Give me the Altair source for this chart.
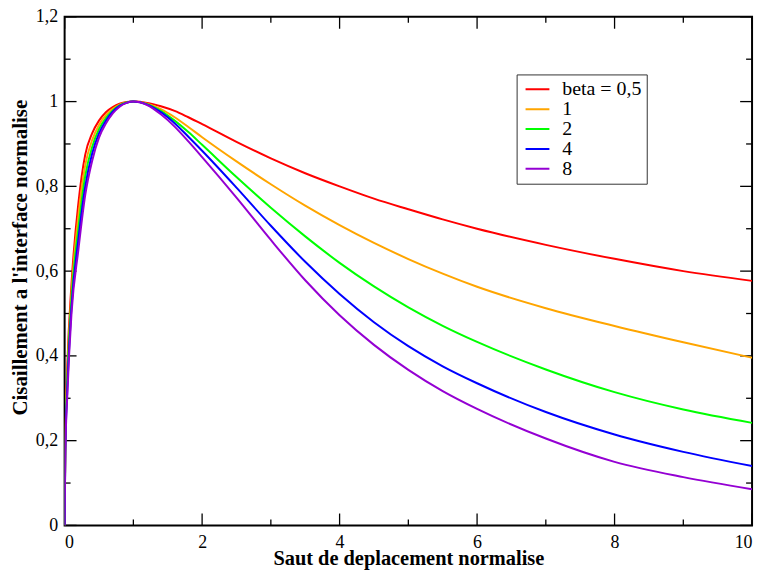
import altair as alt
import pandas as pd

series_labels = ["beta = 0,5", "1", "2", "4", "8"]
series_colors = ["#ff0000", "#ffa500", "#00ff00", "#0000ff", "#9400d3"]

x_vals = [0, 0.01, 0.04, 0.1, 0.2, 0.3, 0.4, 0.5, 0.6, 0.7, 0.8, 0.9, 1.0,
          1.2, 1.4, 1.6, 1.8, 2.0, 2.5, 3.0, 3.5, 4.0, 4.5, 5.0, 5.5, 6.0,
          7.0, 8.0, 9.0, 10.0]

y_beta05 = [0, 0.2, 0.38, 0.57, 0.76, 0.875, 0.925, 0.955, 0.975, 0.987, 0.995, 0.999, 1.0,
            0.997, 0.989, 0.978, 0.963, 0.947, 0.905, 0.866, 0.831, 0.80, 0.771, 0.746, 0.722, 0.70,
            0.662, 0.629, 0.60, 0.577]
y_beta1 = [0, 0.19, 0.36, 0.55, 0.73, 0.85, 0.909, 0.945, 0.968, 0.983, 0.993, 0.998, 1.0,
           0.995, 0.982, 0.963, 0.940, 0.916, 0.859, 0.805, 0.7545, 0.7085, 0.6665, 0.6285, 0.594, 0.563,
           0.5125, 0.4705, 0.432, 0.3956]
y_beta2 = [0, 0.185, 0.345, 0.535, 0.70, 0.825, 0.893, 0.935, 0.961, 0.979, 0.991, 0.998, 1.0,
           0.994, 0.978, 0.955, 0.928, 0.898, 0.822, 0.7495, 0.682, 0.6195, 0.564, 0.5145, 0.471, 0.433,
           0.368, 0.3145, 0.2735, 0.242]
y_beta4 = [0, 0.175, 0.325, 0.515, 0.675, 0.80, 0.877, 0.925, 0.955, 0.976, 0.99, 0.997, 1.0,
           0.993, 0.975, 0.949, 0.917, 0.884, 0.797, 0.707, 0.622, 0.546, 0.4795, 0.423, 0.3755, 0.3355,
           0.2675, 0.2145, 0.1735, 0.140]
y_beta8 = [0, 0.17, 0.31, 0.5, 0.65, 0.78, 0.86, 0.915, 0.948, 0.972, 0.988, 0.997, 1.0,
           0.992, 0.970, 0.941, 0.906, 0.869, 0.7735, 0.6735, 0.5785, 0.496, 0.426, 0.367, 0.317, 0.275,
           0.205, 0.150, 0.114, 0.0855]

x_major = [0, 2, 4, 6, 8, 10]
x_minor = [1, 3, 5, 7, 9]
y_major = [0, 0.2, 0.4, 0.6, 0.8, 1.0, 1.2]
y_minor = [0.1, 0.3, 0.5, 0.7, 0.9, 1.1]

W, H = 692, 512
FONT = "Liberation Serif"

rows = []
for lab, ys in zip(series_labels, [y_beta05, y_beta1, y_beta2, y_beta4, y_beta8]):
    for xv, yv in zip(x_vals, ys):
        rows.append({"x": xv, "y": yv, "serie": lab})
df = pd.DataFrame(rows)

xscale = alt.Scale(domain=[0, 10], nice=False, zero=False)
yscale = alt.Scale(domain=[0, 1.2], nice=False, zero=False)
xaxis = alt.Axis(title="Saut de deplacement normalise", values=x_major, ticks=False,
                 domain=False, grid=False, labelFont=FONT, labelFontSize=18,
                 labelColor="black", labelPadding=8, labelBaseline="top",
                 titleFont=FONT, titleFontSize=20.5, titleFontWeight="bold",
                 titleColor="black", titleX=346, titleY=39,
                 titleBaseline="alphabetic", titleAlign="center")
yaxis = alt.Axis(title="Cisaillement a l'interface normalise", values=y_major, ticks=False,
                 domain=False, grid=False, labelFont=FONT, labelFontSize=18,
                 labelColor="black", labelPadding=7,
                 labelExpr="replace(format(datum.value, '.1~f'), '.', ',')",
                 titleFont=FONT, titleFontSize=21, titleFontWeight="bold",
                 titleColor="black", titleAngle=-90, titleX=-44, titleY=242,
                 titleBaseline="middle", titleAlign="center")

xenc = alt.X("x:Q", scale=xscale, axis=xaxis)
yenc = alt.Y("y:Q", scale=yscale, axis=yaxis)

lines = alt.Chart(df).mark_line(strokeWidth=2, interpolate="monotone", clip=True).encode(
    x=xenc, y=yenc,
    color=alt.Color("serie:N", sort=series_labels,
                    scale=alt.Scale(domain=series_labels, range=series_colors),
                    legend=alt.Legend(title=None, orient="none", legendX=455, legendY=58,
                                      symbolType="stroke", symbolSize=576,
                                      symbolStrokeWidth=2, symbolOffset=3,
                                      labelFont=FONT, labelFontSize=20, labelColor="black",
                                      strokeColor="#333333", fillColor="white",
                                      padding=5, rowPadding=0, clipHeight=20,
                                      labelOffset=12)),
)

dxM = pd.DataFrame({"x": x_major})
dxm = pd.DataFrame({"x": x_minor})
dyM = pd.DataFrame({"y": y_major})
dym = pd.DataFrame({"y": y_minor})

def xticks(d, y0, y1):
    return alt.Chart(d).mark_rule(color="black", strokeWidth=1.3).encode(
        x=xenc, y=alt.value(y0), y2=alt.value(y1))

def yticks(d, x0, x1):
    return alt.Chart(d).mark_rule(color="black", strokeWidth=1.3).encode(
        y=yenc, x=alt.value(x0), x2=alt.value(x1))

chart = alt.layer(
    xticks(dxM, H, H - 12), xticks(dxm, H, H - 6),
    xticks(dxM, 0, 12), xticks(dxm, 0, 6),
    yticks(dyM, 0, 12), yticks(dym, 0, 6),
    yticks(dyM, W, W - 12), yticks(dym, W, W - 6),
    lines,
).properties(
    width=W, height=H,
    padding={"left": 57, "top": 7, "right": 8, "bottom": 45},
    autosize=alt.AutoSizeParams(type="none"),
).configure(background="white", font=FONT).configure_view(
    stroke="black", strokeWidth=2
).configure_axis(labelFont=FONT, titleFont=FONT).configure_legend(labelFont=FONT)

chart.save("out.html", embed_options={"renderer": "svg", "actions": False})
